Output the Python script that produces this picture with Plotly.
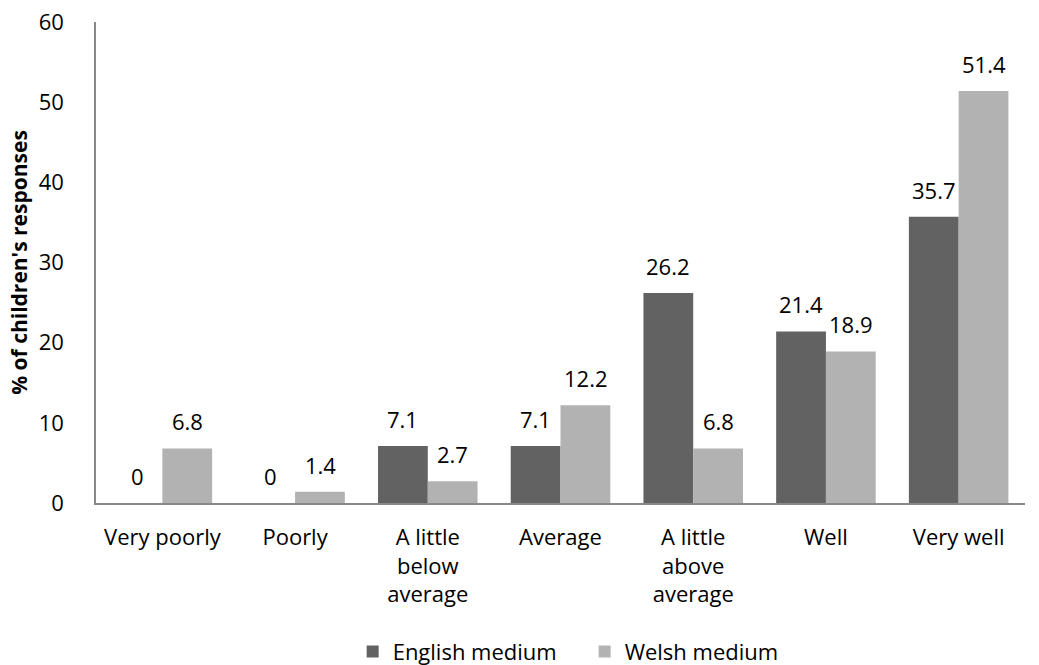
import plotly.graph_objects as go

categories = ["Very poorly", "Poorly", "A little<br>below<br>average", "Average",
              "A little<br>above<br>average", "Well", "Very well"]
english_medium = [0, 0, 7.1, 7.1, 26.2, 21.4, 35.7]
welsh_medium = [6.8, 1.4, 2.7, 12.2, 6.8, 18.9, 51.4]
y_ticks = [0, 10, 20, 30, 40, 50, 60]

FONT = "Open Sans"
TXT = "#000000"
SIZE = 22

fig = go.Figure()
fig.add_trace(go.Bar(
    name="English medium", x=categories, y=english_medium,
    marker=dict(color="#626262", line=dict(width=0)),
))
fig.add_trace(go.Bar(
    name="Welsh medium", x=categories, y=welsh_medium,
    marker=dict(color="#b2b2b2", line=dict(width=0)),
))

# value labels above each bar (bars are ~50px wide, grouped side by side)
for series, shift in ((english_medium, -25), (welsh_medium, 25)):
    for cat, val in zip(categories, series):
        fig.add_annotation(
            x=cat, y=val, xref="x", yref="y", text=f"{val:g}",
            showarrow=False, xshift=shift, yshift=10, yanchor="bottom",
            font=dict(family=FONT, size=SIZE, color=TXT),
        )

fig.update_layout(
    width=1039, height=665,
    margin=dict(l=96, r=14, t=22, b=162, autoexpand=False),
    paper_bgcolor="white", plot_bgcolor="white",
    barmode="group", bargap=0.25, bargroupgap=0,
    font=dict(family=FONT, size=SIZE, color=TXT),
    legend=dict(orientation="h", x=0.526, xanchor="center", xref="paper",
                y=0.02, yanchor="middle", yref="container",
                font=dict(family=FONT, size=SIZE, color=TXT),
                itemwidth=30, entrywidth=187, entrywidthmode="pixels",
                traceorder="normal"),
    showlegend=True,
)
fig.update_xaxes(
    showline=True, linecolor="#888888", linewidth=1.5, automargin=False,
    showgrid=False, ticks="", ticklabelstandoff=14,
    tickfont=dict(family=FONT, size=SIZE, color=TXT),
)
fig.update_yaxes(
    range=[0, 60], tickvals=y_ticks, showline=True, linecolor="#888888",
    linewidth=1.5, showgrid=False, zeroline=False, ticks="", automargin=False,
    ticklabelstandoff=26,
    tickfont=dict(family=FONT, size=SIZE, color=TXT),
    title=dict(text="<b>% of children's responses</b>",
               font=dict(family=FONT, size=21, color=TXT), standoff=5),
)

fig.write_html("out.html")
